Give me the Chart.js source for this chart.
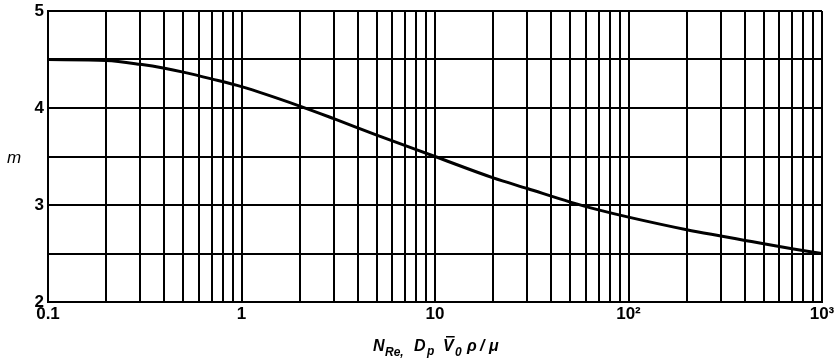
<!DOCTYPE html>
<html>
<head>
<meta charset="utf-8">
<script src="https://cdn.jsdelivr.net/npm/chart.js@4/dist/chart.umd.min.js"></script>
<style>
  html, body { margin: 0; padding: 0; background: #fff; }
  #wrap { width: 838px; height: 359px; }
</style>
</head>
<body>
<div id="wrap"><canvas id="chart" width="838" height="359"></canvas></div>
<script>
// Reynolds number (log axis) and the exponent m
const reValues = [0.1, 0.2, 0.3, 0.4, 0.5, 0.7, 1, 2, 3, 5, 10, 20, 30, 50, 70, 100, 200, 300, 400, 500, 700, 1000];
const mValues  = [4.50, 4.49, 4.45, 4.41, 4.37, 4.30, 4.22, 4.02, 3.89, 3.72, 3.50, 3.28, 3.17, 3.03, 2.95, 2.875, 2.745, 2.68, 2.635, 2.60, 2.55, 2.50];

// grid lines on the log axis (1..9 in every decade) and the labelled decades
const xGridValues = [0.1, 0.2, 0.3, 0.4, 0.5, 0.6, 0.7, 0.8, 0.9,
  1, 2, 3, 4, 5, 6, 7, 8, 9,
  10, 20, 30, 40, 50, 60, 70, 80, 90,
  100, 200, 300, 400, 500, 600, 700, 800, 900, 1000];
const xTickValues = [0.1, 1, 10, 100, 1000];
const xTickLabels = ['0.1', '1', '10', '10²', '10³'];
const yTickLabels = ['2', '3', '4', '5'];

// axis titles: "m" upright-italic on the left, x title with subscripts
const titlePlugin = {
  id: 'titles',
  afterDraw(chart) {
    const ctx = chart.ctx;
    const font = (s, w) => 'italic ' + (w || 'bold') + ' ' + s + 'px "Liberation Sans", Arial, sans-serif';
    ctx.save();
    ctx.fillStyle = '#000';
    ctx.textBaseline = 'alphabetic';
    ctx.font = font(17, 'normal');
    ctx.fillText('m', 7, 163);

    const parts = [
      { t: 'N', x: 373, size: 16, dy: 0 },
      { t: 'Re,', x: 385, size: 12, dy: 5 },
      { t: 'D', x: 414, size: 16, dy: 0 },
      { t: 'p', x: 427, size: 12, dy: 4 },
      { t: 'V', x: 443, size: 16, dy: 0, bar: true },
      { t: '0', x: 455, size: 12, dy: 5 },
      { t: 'ρ', x: 467, size: 16, dy: 0 },
      { t: '/', x: 480, size: 16, dy: 0 },
      { t: 'μ', x: 489, size: 16, dy: 0 }
    ];
    const y = 351;
    parts.forEach(p => {
      ctx.font = font(p.size);
      ctx.fillText(p.t, p.x, y + p.dy);
      if (p.bar) {
        const w = ctx.measureText(p.t).width;
        ctx.fillRect(p.x + 3, y - 15, w - 2, 1.5);
      }
    });
    ctx.restore();
  }
};

new Chart(document.getElementById('chart'), {
  type: 'line',
  data: {
    datasets: [{
      data: reValues.map((x, i) => ({ x: x, y: mValues[i] })),
      borderColor: '#000',
      borderWidth: 3,
      pointRadius: 0,
      cubicInterpolationMode: 'monotone',
      fill: false
    }]
  },
  options: {
    responsive: false,
    animation: false,
    layout: { padding: { left: 0, right: 16, top: 11, bottom: 0 } },
    plugins: { legend: { display: false }, tooltip: { enabled: false } },
    scales: {
      x: {
        type: 'logarithmic',
        min: 0.1,
        max: 1000,
        afterBuildTicks(scale) {
          scale.ticks = xGridValues.map(v => ({ value: v }));
        },
        afterFit(scale) {
          scale.height = 57;
          scale.paddingLeft = 0;
          scale.paddingRight = 0;
        },
        ticks: {
          autoSkip: false,
          maxRotation: 0,
          color: '#000',
          font: { family: '"Liberation Sans", Arial, sans-serif', size: 17, weight: 'bold' },
          padding: 2,
          callback(value) {
            const i = xTickValues.findIndex(v => Math.abs(v - value) < 1e-9);
            return i >= 0 ? xTickLabels[i] : '';
          }
        },
        grid: { color: '#000', lineWidth: 2, drawTicks: false },
        border: { color: '#000', width: 2 }
      },
      y: {
        min: 2,
        max: 5,
        afterFit(scale) {
          scale.width = 48;
          scale.paddingTop = 0;
          scale.paddingBottom = 0;
        },
        ticks: {
          stepSize: 0.5,
          color: '#000',
          font: { family: '"Liberation Sans", Arial, sans-serif', size: 17, weight: 'bold' },
          padding: 4,
          callback(value) {
            return yTickLabels.includes(String(value)) ? String(value) : '';
          }
        },
        grid: { color: '#000', lineWidth: 2, drawTicks: false },
        border: { color: '#000', width: 2 }
      }
    }
  },
  plugins: [titlePlugin]
});
</script>
</body>
</html>
